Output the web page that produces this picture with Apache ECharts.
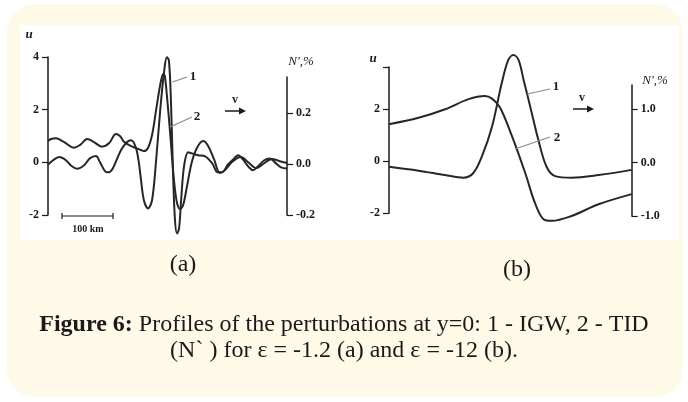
<!DOCTYPE html>
<html>
<head>
<meta charset="utf-8" />
<title>Figure 6</title>
<script src="https://cdn.jsdelivr.net/npm/echarts@6/dist/echarts.min.js"></script>
<style>
  html, body { margin: 0; padding: 0; background: #fff; }
  #main { width: 688px; height: 402px; }
</style>
</head>
<body>
<div id="main"></div>
<script>
// ---- panel (a), eps = -1.2 : distance along x (km) ----
var aX1 = [0,10,22,35,47,57,71,82,94,102,112,118,127,143,155,163,172,178,182,188,196,204,212,220,228,233,237,241,245,249,253,257,261,267,275,282,294,308,322,333,341,353,365,373,382,394,402,412,424,435,447,457,469];
var aU1 = [-0.09,0.08,0.2,0.08,-0.15,-0.24,-0.11,0.15,0.24,0,-0.34,-0.38,-0.23,0.46,0.77,0.84,0.58,0.01,-0.61,-1.44,-1.75,-1.44,0.08,1.98,3.5,3.99,3.88,2.36,-0.3,-2.2,-2.7,-2.5,-1.44,-0.11,0.38,0.34,0.27,0.23,-0.04,-0.38,-0.38,-0.08,0.15,0.27,0.11,-0.19,-0.3,-0.15,0.08,0.15,-0.04,-0.19,-0.23];
var aX2 = [0,6,15,31,51,63,77,90,106,120,133,141,149,161,173,182,188,196,204,212,220,226,229,233,239,247,253,259,265,273,282,292,304,314,326,337,347,361,378,392,408,422,439,453,469];
var aN2 = [0.090,0.098,0.101,0.087,0.064,0.075,0.098,0.086,0.068,0.082,0.118,0.110,0.087,0.072,0.062,0.055,0.051,0.063,0.114,0.212,0.310,0.353,0.345,0.271,0.133,-0.063,-0.153,-0.176,-0.161,-0.082,0.008,0.063,0.090,0.071,0.016,-0.035,-0.024,0.008,0.027,0.008,-0.016,0,0.020,0.012,0.004];

// ---- panel (b), eps = -12 ----
var bX1 = [0,58,110,146,165,182,202,221,234,244,254,264,277,293,309,326,358,411,476];
var bU1 = [-0.21,-0.36,-0.53,-0.63,-0.46,0.18,1.33,3.0,3.9,4.09,3.9,3.13,2.1,0.82,-0.21,-0.57,-0.63,-0.53,-0.33];
var bX2 = [0,58,110,156,188,202,218,241,267,286,303,319,358,411,476];
var bN2 = [0.72,0.84,1.0,1.19,1.25,1.2,1.03,0.5,-0.19,-0.75,-1.06,-1.09,-1.0,-0.78,-0.59];

// tick labels
var uTicksA = [-2, 0, 2, 4];
var uTicksB = [-2, 0, 2];
var nTicksA = [-0.2, 0.0, 0.2];
var nTicksB = [-1.0, 0.0, 1.0];

function pairs(xs, ys) {
  return xs.map(function (x, i) { return [x, ys[i]]; });
}

var chart = echarts.init(document.getElementById('main'), null, { renderer: 'canvas' });

var ink = '#1a1a1a';
var tickFont = { color: ink, fontFamily: 'Liberation Serif', fontWeight: 'bold', fontSize: 12 };
var serif = '"Liberation Serif"';

function hiddenX(idx, max) {
  return { type: 'value', gridIndex: idx, min: 0, max: max, show: false };
}

function yAxisDef(idx, pos, min, max, labels, tickVals, fmt) {
  return {
    type: 'value', gridIndex: idx, position: pos, min: min, max: max,
    splitLine: { show: false },
    axisLine: { show: true, onZero: false, lineStyle: { color: ink, width: 1.5 } },
    axisTick: { show: true, length: 6, lineStyle: { color: ink, width: 1.2 }, customValues: tickVals },
    axisLabel: Object.assign({ margin: 9, customValues: labels, formatter: fmt }, tickFont)
  };
}

function curve(xi, yi, data) {
  return {
    type: 'line', xAxisIndex: xi, yAxisIndex: yi, data: data,
    smooth: 0.35, showSymbol: false, silent: true, clip: false,
    lineStyle: { color: '#262626', width: 2 }
  };
}

function txt(x, y, s, font, align) {
  return { type: 'text', z: 10, style: { x: x, y: y, text: s, font: font, fill: ink, align: align || 'center', verticalAlign: 'middle' } };
}
function seg(x1, y1, x2, y2, color, w) {
  return { type: 'line', z: 10, shape: { x1: x1, y1: y1, x2: x2, y2: y2 }, style: { stroke: color || ink, lineWidth: w || 1 } };
}
function arrow(x, y) {
  return [
    seg(x, y, x + 17, y, ink, 1.5),
    { type: 'polygon', z: 10, shape: { points: [[x + 21, y], [x + 14, y - 3.5], [x + 14, y + 3.5]] }, style: { fill: ink } }
  ];
}

var uMaxB = -2 + (213.3 - 67) / 26;
var nMaxA = -0.2 + 138 / 255;
var nMaxB = -1 + 131 / 53.35;
var capFont = 'Liberation Serif';

var graphics = [
  { type: 'rect', z: -20, shape: { x: 7, y: 4, width: 676, height: 393, r: 28 }, style: { fill: '#fffae7' } },
  { type: 'rect', z: -19, shape: { x: 20, y: 25, width: 659, height: 215 }, style: { fill: '#ffffff' } },
  // panel (a) annotations
  txt(29, 35, 'u', 'italic bold 13px ' + serif),
  txt(301, 62, "N',%", 'italic 13px ' + serif),
  seg(172.5, 82, 187, 77, '#8a8a8a', 1.2),
  seg(170, 127, 192, 117, '#8a8a8a', 1.2),
  txt(193, 77, '1', 'bold 13px ' + serif),
  txt(197, 117, '2', 'bold 13px ' + serif),
  txt(235, 100, 'v', 'bold 12px ' + serif),
  seg(62, 216, 113, 216, ink, 1.2),
  seg(62, 213, 62, 219, ink, 1.2),
  seg(113, 213, 113, 219, ink, 1.2),
  txt(88, 229, '100 km', 'bold 10px ' + serif),
  // panel (b) annotations
  txt(373, 59, 'u', 'italic bold 13px ' + serif),
  txt(655, 81, "N',%", 'italic 13px ' + serif),
  seg(527, 94, 550, 89, '#8a8a8a', 1.2),
  seg(515, 149, 550, 137, '#8a8a8a', 1.2),
  txt(556, 87, '1', 'bold 13px ' + serif),
  txt(557, 138, '2', 'bold 13px ' + serif),
  txt(582, 98, 'v', 'bold 12px ' + serif),
  // sub-labels and caption
  txt(183, 265, '(a)', '24px "' + capFont + '"'),
  txt(517, 270, '(b)', '24px "' + capFont + '"'),
  {
    type: 'text', z: 10,
    style: {
      x: 344, y: 325, align: 'center', verticalAlign: 'middle',
      text: '{b|Figure 6:} Profiles of the perturbations at y=0: 1 - IGW, 2 - TID',
      fontFamily: capFont, fontSize: 24, fill: ink,
      rich: { b: { fontFamily: capFont, fontSize: 24, fontWeight: 'bold', fill: ink } }
    }
  },
  txt(344, 351, '(N` ) for \u03b5 = -1.2 (a) and \u03b5 = -12 (b).', '24px "' + capFont + '"')
].concat(arrow(225, 111), arrow(573, 109));

var option = {
  backgroundColor: '#ffffff',
  animation: false,
  grid: [
    { left: 48, top: 57, width: 239, height: 158 },
    { left: 48, top: 77, width: 239, height: 138 },
    { left: 389, top: 67, width: 242.7, height: 146.3 },
    { left: 389, top: 85, width: 242.7, height: 131 }
  ],
  xAxis: [hiddenX(0, 468.6), hiddenX(1, 468.6), hiddenX(2, 476), hiddenX(3, 476)],
  yAxis: [
    yAxisDef(0, 'left', -2, 4, uTicksA, uTicksA, function (v) { return String(v); }),
    yAxisDef(1, 'right', -0.2, nMaxA, nTicksA, nTicksA, function (v) { return v.toFixed(1); }),
    yAxisDef(2, 'left', -2, uMaxB, uTicksB, uTicksB.concat([uMaxB]), function (v) { return String(v); }),
    yAxisDef(3, 'right', -1, nMaxB, nTicksB, nTicksB, function (v) { return v.toFixed(1); })
  ],
  series: [
    curve(0, 0, pairs(aX1, aU1)),
    curve(1, 1, pairs(aX2, aN2)),
    curve(2, 2, pairs(bX1, bU1)),
    curve(3, 3, pairs(bX2, bN2))
  ],
  graphic: graphics
};

chart.setOption(option);
</script>
</body>
</html>
